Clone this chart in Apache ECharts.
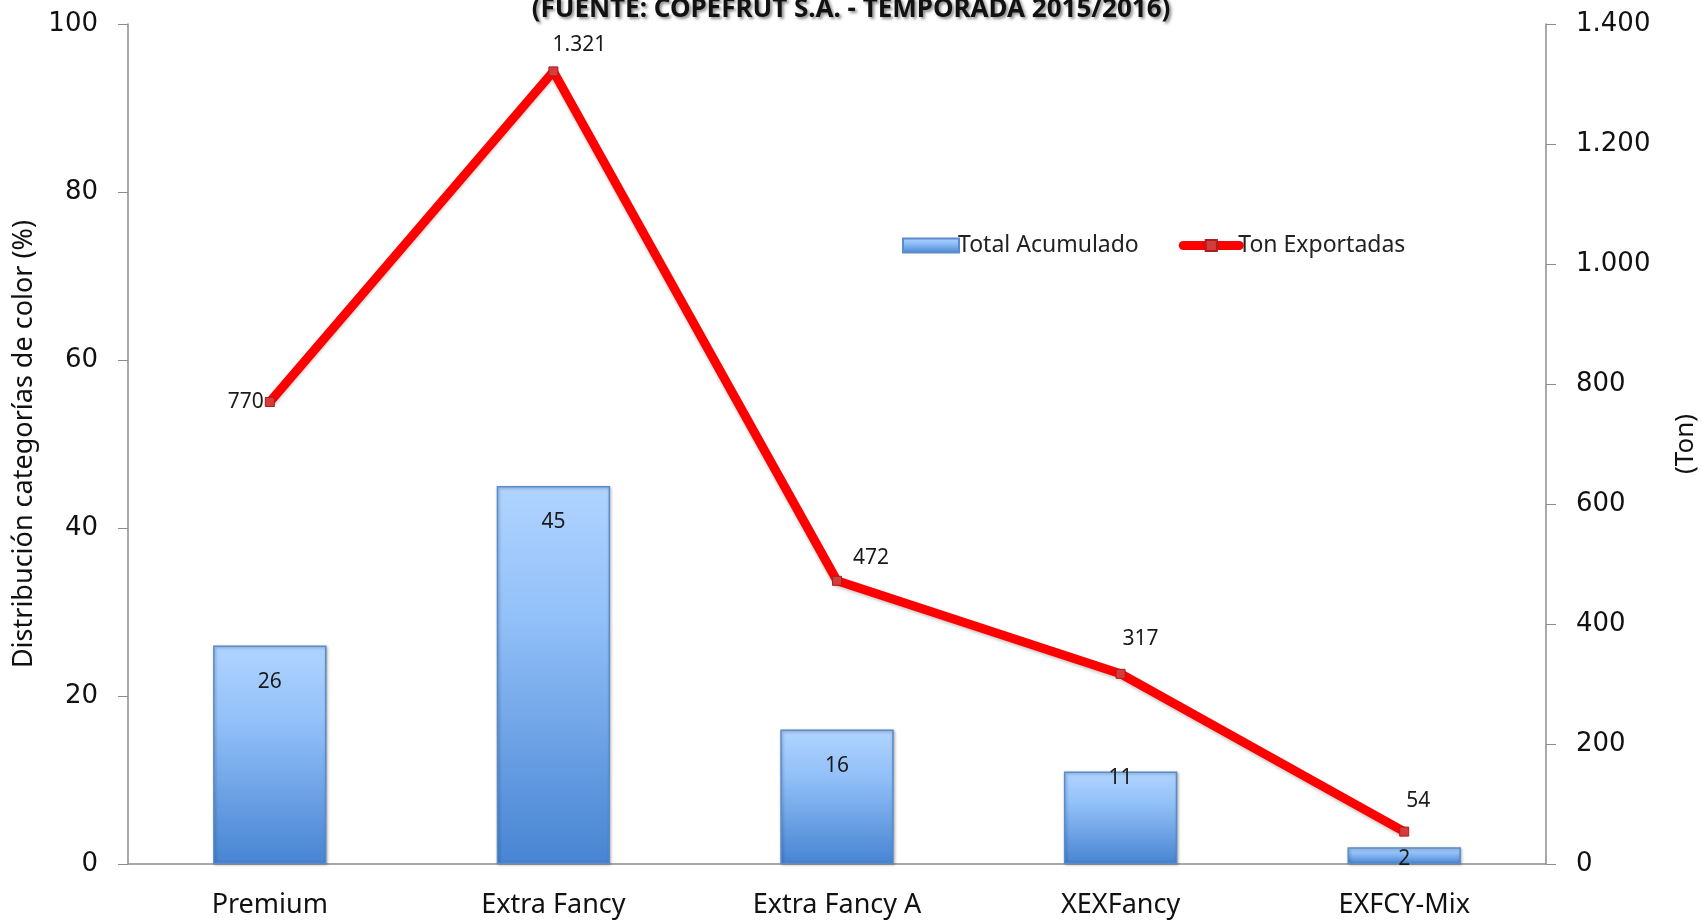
<!DOCTYPE html>
<html>
<head>
<meta charset="utf-8">
<script src="https://cdn.jsdelivr.net/npm/echarts@6/dist/echarts.min.js"></script>
<style>
html,body{margin:0;padding:0;background:#fff;}
#chart{width:1702px;height:920px;}
</style>
</head>
<body>
<div id="chart"></div>
<script>
const categories = ['Premium', 'Extra Fancy', 'Extra Fancy A', 'XEXFancy', 'EXFCY-Mix'];
const totalAcumulado = [26, 45, 16, 11, 2];
const tonExportadas = [770, 1321, 472, 317, 54];
const titleText = '(FUENTE: COPEFRUT S.A. - TEMPORADA 2015/2016)';
const leftAxisName = 'Distribución categorías de color (%)';
const rightAxisName = '(Ton)';

function fmtES(v) {
  return String(v).replace(/\B(?=(\d{3})+(?!\d))/g, '.');
}

const chart = echarts.init(document.getElementById('chart'));
const labelFont = { fontFamily: 'Noto Sans', fontSize: 21, color: '#1a1a1a' };

const lineLabelCfg = [
  { position: 'left', offset: [4, 0] },
  { position: 'top', offset: [26, -6] },
  { position: 'top', offset: [34, -2] },
  { position: 'top', offset: [20, -14] },
  { position: 'top', offset: [14, -10] }
];
const barLabelCfg = [
  { position: 'insideTop', distance: 26 },
  { position: 'insideTop', distance: 26 },
  { position: 'insideTop', distance: 26 },
  { position: 'insideTop', distance: 0, offset: [0, -4] },
  { position: 'insideTop', distance: 0, offset: [0, 1] }
];

chart.setOption({
  animation: false,
  title: {
    text: titleText,
    left: 'center',
    top: -8,
    textStyle: {
      fontFamily: 'Noto Sans',
      fontWeight: 'bold',
      fontSize: 26,
      color: '#111',
      textShadowColor: 'rgba(0,0,0,0.45)',
      textShadowBlur: 3,
      textShadowOffsetX: 2,
      textShadowOffsetY: 2
    }
  },
  legend: {
    left: 897,
    top: 229,
    itemWidth: 56,
    itemHeight: 14,
    itemGap: 40,
    textStyle: { fontFamily: 'Noto Sans', fontSize: 23, color: '#222', padding: [0, 0, 0, -6] },
    data: [
      { name: 'Total Acumulado', icon: 'rect' },
      { name: 'Ton Exportadas', lineStyle: { width: 9, cap: 'round', color: '#ff0000' } }
    ]
  },
  grid: { left: 128, right: 156, top: 24, bottom: 56, outerBoundsMode: 'none', containLabel: false },
  xAxis: {
    type: 'category',
    data: categories,
    axisLine: { lineStyle: { color: '#8c8c8c', width: 1.5 } },
    axisTick: { show: false },
    axisLabel: { fontFamily: 'Noto Sans', fontSize: 27, color: '#111', margin: 28 }
  },
  yAxis: [
    {
      type: 'value',
      min: 0, max: 100, interval: 20,
      name: leftAxisName,
      nameLocation: 'middle',
      nameGap: 90,
      nameRotate: 90,
      nameTextStyle: { fontFamily: 'Noto Sans', fontSize: 27, color: '#111' },
      axisLine: { show: true, lineStyle: { color: '#8c8c8c', width: 1.5 } },
      axisTick: { show: true, length: 10, lineStyle: { color: '#8c8c8c' } },
      splitLine: { show: false },
      axisLabel: { fontFamily: 'DejaVu Sans', fontSize: 26, color: '#111', margin: 30 }
    },
    {
      type: 'value',
      min: 0, max: 1400, interval: 200,
      name: rightAxisName,
      nameLocation: 'middle',
      nameGap: 127,
      nameRotate: 90,
      nameTextStyle: { fontFamily: 'Noto Sans', fontSize: 26, color: '#111' },
      axisLine: { show: true, lineStyle: { color: '#8c8c8c', width: 1.5 } },
      axisTick: { show: true, length: 10, lineStyle: { color: '#8c8c8c' } },
      splitLine: { show: false },
      axisLabel: { fontFamily: 'DejaVu Sans', fontSize: 26, color: '#111', margin: 30, formatter: v => fmtES(v) }
    }
  ],
  series: [
    {
      name: 'Total Acumulado',
      type: 'bar',
      yAxisIndex: 0,
      barWidth: '40%',
      data: totalAcumulado.map((v, i) => ({
        value: v,
        label: Object.assign({ show: true }, labelFont, barLabelCfg[i])
      })),
      itemStyle: {
        color: new echarts.graphic.LinearGradient(0, 0, 0, 1, [
          { offset: 0, color: '#b0d4ff' },
          { offset: 0.35, color: '#92c0f8' },
          { offset: 1, color: '#4784d2' }
        ]),
        borderColor: '#5a8ccc',
        borderWidth: 1.5,
        shadowColor: 'rgba(0,0,0,0.3)',
        shadowBlur: 3,
        shadowOffsetX: 1,
        shadowOffsetY: 1
      },
      z: 2
    },
    {
      name: 'Ton Exportadas',
      type: 'line',
      yAxisIndex: 1,
      data: tonExportadas.map((v, i) => ({
        value: v,
        label: Object.assign({ show: true, formatter: p => fmtES(p.value) }, labelFont, lineLabelCfg[i])
      })),
      lineStyle: { color: '#ff0000', width: 9, shadowColor: 'rgba(0,0,0,0.2)', shadowBlur: 3, shadowOffsetY: 2 },
      itemStyle: { color: '#d93a3a', borderColor: '#a52020', borderWidth: 1 },
      symbol: 'rect',
      symbolSize: 9,
      z: 3
    }
  ]
});
</script>
</body>
</html>
